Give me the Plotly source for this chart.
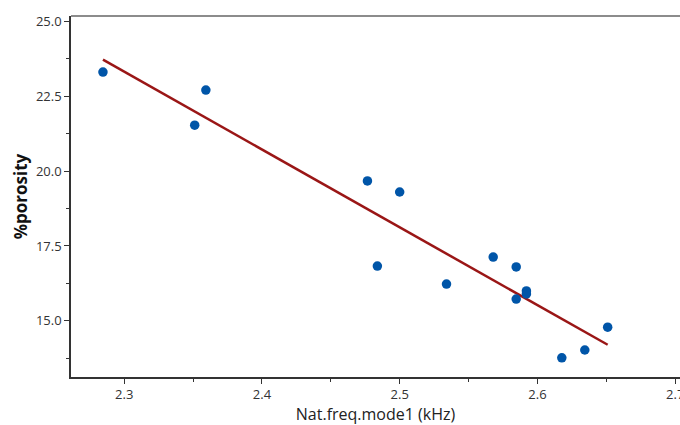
import numpy as np
import plotly.graph_objects as go

# Natural frequency of mode 1 (kHz) vs. measured porosity (%)
nat_freq_khz = [2.2846, 2.3593, 2.3512, 2.4766, 2.5000, 2.4838, 2.5340, 2.5679,
                2.5846, 2.5920, 2.5920, 2.5846, 2.6177, 2.6344, 2.6510]
porosity_pct = [23.30, 22.70, 21.53, 19.67, 19.30, 16.83, 16.23, 17.13,
                16.80, 16.00, 15.90, 15.73, 13.77, 14.03, 14.79]

x_ticks = [2.3, 2.4, 2.5, 2.6, 2.7]
y_ticks = [15.0, 17.5, 20.0, 22.5, 25.0]

# Least-squares linear fit across the data range
slope, intercept = np.polyfit(nat_freq_khz, porosity_pct, 1)
fit_x = np.array([min(nat_freq_khz), max(nat_freq_khz)])
fit_y = slope * fit_x + intercept

font_family = "Open Sans, Noto Sans, sans-serif"
tick_color = "#333333"

fig = go.Figure()
fig.add_trace(go.Scatter(
    x=fit_x, y=fit_y, mode="lines",
    line=dict(color="#9a1616", width=2.5),
    showlegend=False, hoverinfo="skip",
))
fig.add_trace(go.Scatter(
    x=nat_freq_khz, y=porosity_pct, mode="markers",
    marker=dict(color="#0055a8", size=9.5, line=dict(width=0)),
    showlegend=False,
))

fig.update_layout(
    width=680, height=425,
    margin=dict(l=71, r=0, t=16, b=48),
    paper_bgcolor="white", plot_bgcolor="white",
    font=dict(family=font_family, color=tick_color),
    xaxis=dict(
        range=[2.2614, 2.7035],
        automargin=False,
        tickvals=x_ticks, ticktext=[f"{v:g}" for v in x_ticks],
        ticklabeloverflow="allow",
        showgrid=False, zeroline=False,
        showline=True, linecolor="#333333", linewidth=1.5,
        ticks="outside", ticklen=5, tickcolor="#333333", tickwidth=1,
        minor=dict(dtick=0.05, ticks="outside", ticklen=3, tickcolor="#333333"),
        tickfont=dict(size=13, color=tick_color),
        title=dict(text="Nat.freq.mode1 (kHz)", font=dict(size=16, color="#222222"),
                   standoff=12),
    ),
    yaxis=dict(
        range=[13.13, 25.17],
        automargin=False,
        tickvals=y_ticks, ticktext=[f"{v:.1f}" for v in y_ticks],
        showgrid=False, zeroline=False,
        showline=True, linecolor="#333333", linewidth=1.5,
        ticks="outside", ticklen=5, tickcolor="#333333", tickwidth=1,
        minor=dict(dtick=1.25, ticks="outside", ticklen=3, tickcolor="#333333"),
        tickfont=dict(size=13, color=tick_color),
        title=dict(text="<b>%porosity</b>", font=dict(size=17, color="#111111"),
                   standoff=4),
    ),
    shapes=[dict(type="line", xref="paper", yref="paper", x0=0, x1=1, y0=1, y1=1,
                 line=dict(color="#8c8c8c", width=2))],
)

fig.write_html("out.html")
